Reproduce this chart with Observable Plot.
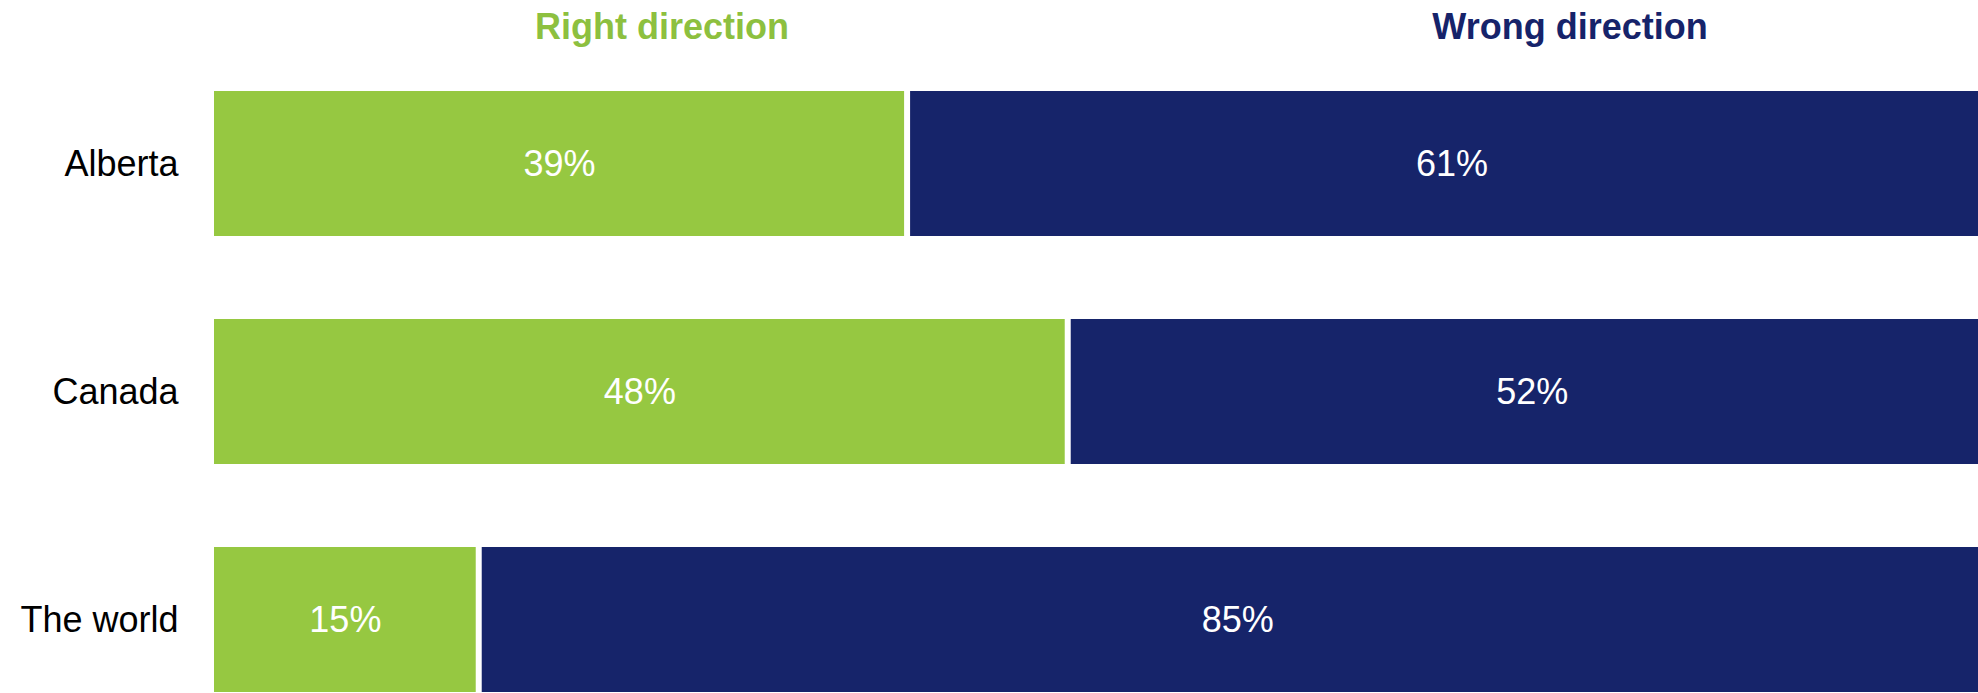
<!DOCTYPE html>
<html>
<head>
<meta charset="utf-8">
<script src="https://cdn.jsdelivr.net/npm/d3@7"></script>
<script src="https://cdn.jsdelivr.net/npm/@observablehq/plot@0.6"></script>
<style>
  html, body { margin: 0; padding: 0; background: #fff; overflow: hidden; }
  body { width: 1978px; height: 693px; font-family: "Liberation Sans", Arial, sans-serif; }
  #header { position: relative; height: 78px; width: 1978px; }
  #header span { position: absolute; top: 6px; transform: translateX(-50%); font-size: 36px; font-weight: bold; white-space: nowrap; line-height: normal; }
  #chart svg { display: block; }
</style>
</head>
<body>
<div id="header"></div>
<div id="chart"></div>
<script>
const regions = ["Alberta", "Canada", "The world"];
const answers = ["Right direction", "Wrong direction"];
const rightDirection = [39, 48, 15];
const wrongDirection = [61, 52, 85];
const colors = ["#96c841", "#16246a"];
const headerColors = ["#8dc03f", "#16236a"];
const headerCenters = ["662px", "1570px"];

const table = [];
regions.forEach((r, i) => {
  table.push({region: r, answer: answers[0], value: rightDirection[i]});
  table.push({region: r, answer: answers[1], value: wrongDirection[i]});
});

const header = document.getElementById("header");
answers.forEach((a, i) => {
  const s = document.createElement("span");
  s.textContent = a;
  s.style.color = headerColors[i];
  s.style.left = headerCenters[i];
  header.appendChild(s);
});

const chart = Plot.plot({
  width: 1978,
  height: 615,
  marginLeft: 211,
  marginRight: 0,
  marginTop: 13,
  marginBottom: 0,
  style: {fontFamily: "'Liberation Sans', Arial, sans-serif", background: "#fff"},
  x: {domain: [0, 99], axis: null},
  y: {domain: regions, paddingInner: 0.3624, paddingOuter: 0, label: null},
  color: {domain: answers, range: colors},
  marks: [
    Plot.barX(table, Plot.stackX({
      x: "value", y: "region", fill: "answer", order: answers,
      insetLeft: 3, insetRight: 3, clip: true
    })),
    Plot.text(table, Plot.stackX({
      x: "value", y: "region", z: "answer", order: answers,
      text: d => d.value + "%", fill: "white", fontSize: 36
    })),
    Plot.axisY({tickSize: 0, tickPadding: 33, fontSize: 36, fill: "#000", label: null})
  ]
});
document.getElementById("chart").appendChild(chart);
</script>
</body>
</html>
